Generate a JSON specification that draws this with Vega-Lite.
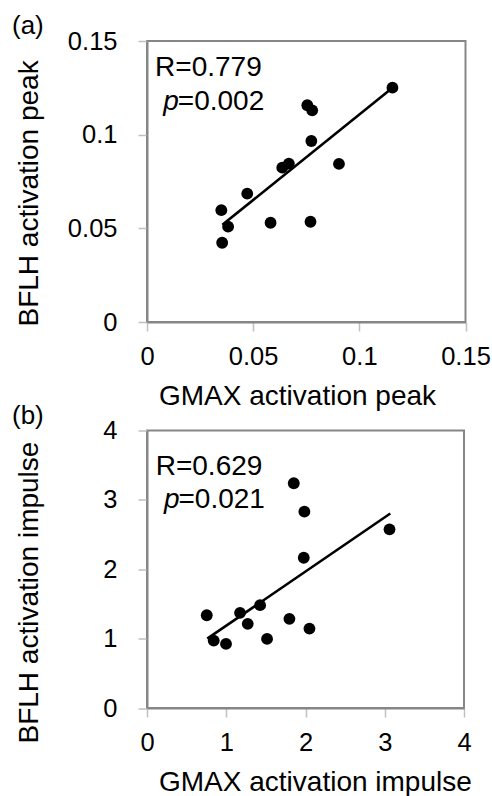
{
  "$schema": "https://vega.github.io/schema/vega-lite/v6.json",
  "background": "white",
  "padding": {"left": 11, "top": 12, "right": 0, "bottom": 0},
  "config": {
    "font": "Liberation Sans",
    "view": {"stroke": "#868686", "strokeWidth": 2},
    "axis": {
      "grid": false,
      "labelFlush": false,
      "labelOverlap": false,
      "domainColor": "#868686",
      "domainWidth": 2,
      "tickColor": "#c0c0c0",
      "tickWidth": 1.5,
      "tickSize": 9,
      "labelFont": "Liberation Sans",
      "labelFontSize": 25.5,
      "labelColor": "#000000",
      "titleFont": "Liberation Sans",
      "titleFontSize": 28,
      "titleFontWeight": "normal",
      "titleColor": "#000000",
      "titleBaseline": "alphabetic",
      "titleAlign": "left"
    },
    "axisX": {"labelPadding": 13, "titleX": 11.5, "titleY": 82.5},
    "axisY": {"labelPadding": 21, "titleX": -109.5},
    "title": {"font": "Liberation Sans", "fontSize": 26, "fontWeight": "normal", "color": "#000000"}
  },
  "datasets": {
    "peak": [
      {"x": 0.1156, "y": 0.1251},
      {"x": 0.0755, "y": 0.1157},
      {"x": 0.0778, "y": 0.1130},
      {"x": 0.0774, "y": 0.0966},
      {"x": 0.0904, "y": 0.0844},
      {"x": 0.0637, "y": 0.0824},
      {"x": 0.0668, "y": 0.0845},
      {"x": 0.0472, "y": 0.0685},
      {"x": 0.0350, "y": 0.0597},
      {"x": 0.0382, "y": 0.0509},
      {"x": 0.0582, "y": 0.0530},
      {"x": 0.0770, "y": 0.0535},
      {"x": 0.0354, "y": 0.0423}
    ],
    "peakFit": [
      {"x": 0.0355, "y": 0.0519},
      {"x": 0.1152, "y": 0.1246}
    ],
    "peakText": [
      {"x": 0.0038, "y": 0.1312, "t": "R=0.779"},
      {"x": 0.0145, "y": 0.1134, "t": "=0.002"}
    ],
    "peakItal": [
      {"x": 0.0077, "y": 0.1134, "t": "p"}
    ],
    "imp": [
      {"x": 1.852, "y": 3.24},
      {"x": 1.986, "y": 2.83},
      {"x": 3.06, "y": 2.575},
      {"x": 1.978, "y": 2.166},
      {"x": 1.427, "y": 1.482},
      {"x": 0.754, "y": 1.337},
      {"x": 1.174, "y": 1.372},
      {"x": 1.271, "y": 1.213},
      {"x": 1.797, "y": 1.285},
      {"x": 2.05, "y": 1.145},
      {"x": 0.842, "y": 0.972},
      {"x": 0.997, "y": 0.924},
      {"x": 1.515, "y": 0.996}
    ],
    "impFit": [
      {"x": 0.76, "y": 0.999},
      {"x": 3.07, "y": 2.804}
    ],
    "impText": [
      {"x": 0.11, "y": 3.365, "t": "R=0.629"},
      {"x": 0.3975, "y": 2.886, "t": "=0.021"}
    ],
    "impItal": [
      {"x": 0.2145, "y": 2.886, "t": "p"}
    ]
  },
  "vconcat": [
    {
      "width": 318.5,
      "height": 281,
      "title": {"text": "(a)", "anchor": "start", "frame": "group", "dx": -135, "offset": 0, "dy": 10},
      "encoding": {
        "x": {"field": "x", "type": "quantitative",
              "scale": {"domain": [0, 0.15], "nice": false, "zero": false},
              "axis": {"values": [0, 0.05, 0.1, 0.15], "format": ".2~f", "title": "GMAX activation peak"}},
        "y": {"field": "y", "type": "quantitative",
              "scale": {"domain": [0, 0.15], "nice": false, "zero": false},
              "axis": {"values": [0, 0.05, 0.1, 0.15], "format": ".2~f", "title": "BFLH activation peak", "titleY": 285}}
      },
      "layer": [
        {"data": {"name": "peakFit"}, "mark": {"type": "line", "color": "#000000", "strokeWidth": 2.6}},
        {"data": {"name": "peak"}, "mark": {"type": "circle", "color": "#000000", "opacity": 1, "size": 140}},
        {"data": {"name": "peakText"}, "mark": {"type": "text", "align": "left", "baseline": "alphabetic", "fontSize": 28, "font": "Liberation Sans", "color": "#000000"},
         "encoding": {"text": {"field": "t"}}},
        {"data": {"name": "peakItal"}, "mark": {"type": "text", "align": "left", "baseline": "alphabetic", "fontSize": 28, "fontStyle": "italic", "font": "Liberation Sans", "color": "#000000"},
         "encoding": {"text": {"field": "t"}}}
      ]
    },
    {
      "width": 317,
      "height": 277.5,
      "title": {"text": "(b)", "anchor": "start", "frame": "group", "dx": -135, "offset": 0, "dy": 10},
      "encoding": {
        "x": {"field": "x", "type": "quantitative",
              "scale": {"domain": [0, 4], "nice": false, "zero": false},
              "axis": {"values": [0, 1, 2, 3, 4], "format": "d", "title": "GMAX activation impulse"}},
        "y": {"field": "y", "type": "quantitative",
              "scale": {"domain": [0, 4], "nice": false, "zero": false},
              "axis": {"values": [0, 1, 2, 3, 4], "format": "d", "title": "BFLH activation impulse", "titleY": 312.5}}
      },
      "layer": [
        {"data": {"name": "impFit"}, "mark": {"type": "line", "color": "#000000", "strokeWidth": 2.6}},
        {"data": {"name": "imp"}, "mark": {"type": "circle", "color": "#000000", "opacity": 1, "size": 140}},
        {"data": {"name": "impText"}, "mark": {"type": "text", "align": "left", "baseline": "alphabetic", "fontSize": 28, "font": "Liberation Sans", "color": "#000000"},
         "encoding": {"text": {"field": "t"}}},
        {"data": {"name": "impItal"}, "mark": {"type": "text", "align": "left", "baseline": "alphabetic", "fontSize": 28, "fontStyle": "italic", "font": "Liberation Sans", "color": "#000000"},
         "encoding": {"text": {"field": "t"}}}
      ]
    }
  ],
  "bounds": "flush",
  "spacing": 108.5
}
